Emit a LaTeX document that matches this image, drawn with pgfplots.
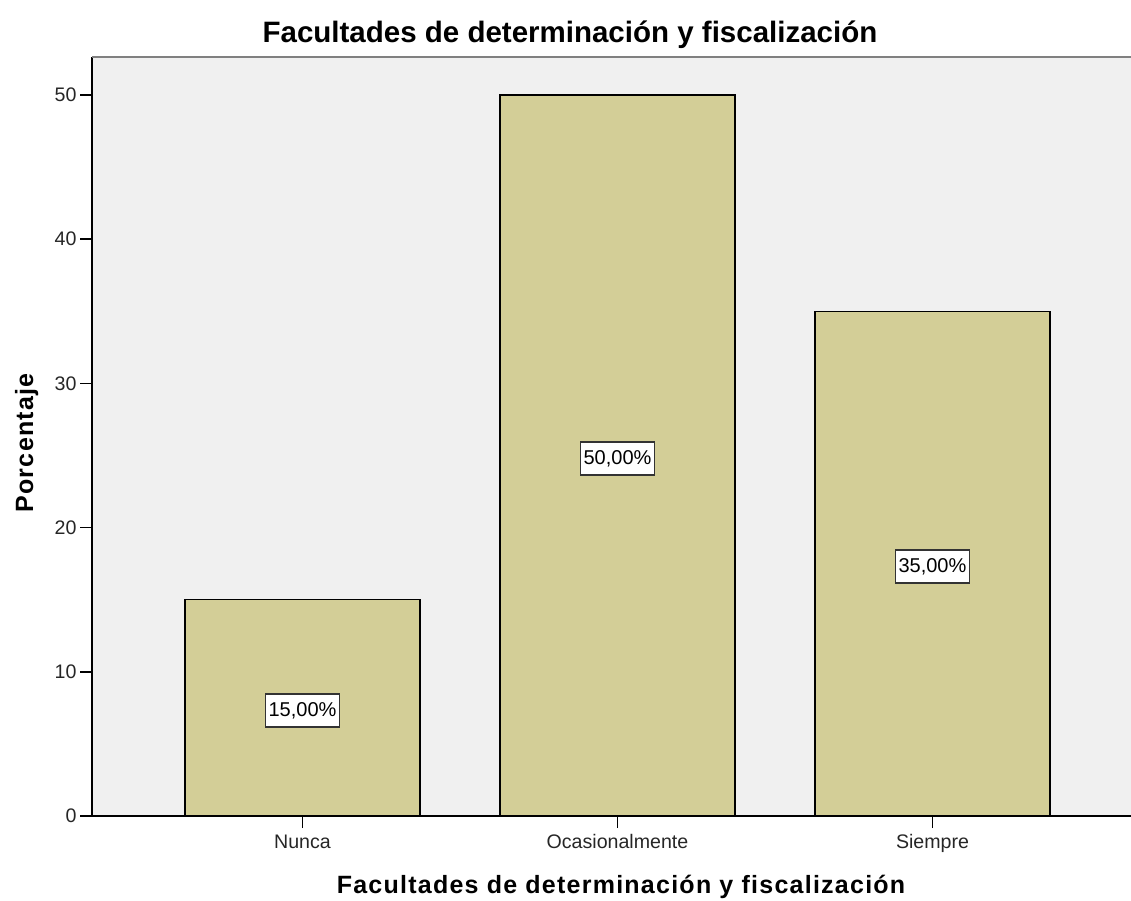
\documentclass[border=0pt]{standalone}
\usepackage{fontspec}
\setmainfont{Liberation Sans}
\newfontfamily\labfont[LetterSpace=5]{Liberation Sans}
\usepackage{pgfplots}
\pgfplotsset{compat=1.18}
\definecolor{barfill}{HTML}{D3CE97}
\definecolor{bgfill}{HTML}{F0F0F0}
\begin{document}
\begin{tikzpicture}[x=1pt,y=1pt]
\useasboundingbox (0,0) rectangle (1131,900);
\begin{axis}[
 at={(92pt,84pt)}, anchor=south west, scale only axis,
 width=1039pt, height=759pt,
 xmin=-0.6683, xmax=2.6302, ymin=0, ymax=52.64,
 axis x line*=bottom, axis y line*=left,
 axis line style={black, line width=1.5pt, -},
 axis background/.style={fill=bgfill},
 xtick={0,1,2}, xticklabels={Nunca,Ocasionalmente,Siempre},
 ytick={0,10,...,50},
 tick align=outside, major tick length=12pt,
 tick style={black, line width=1.5pt},
 ticklabel style={font=\fontsize{19.6}{22}\selectfont, text=black!85},
 xticklabel style={yshift=-3pt},
 /pgf/number format/assume math mode=true,
 clip=false,
]
\addplot[ybar, bar width=235pt, fill=barfill, draw=black, line width=1.3pt] coordinates {(0,15) (1,50) (2,35)};
\addplot[draw=none, mark=none, nodes near coords, point meta=explicit symbolic,
  every node near coord/.style={anchor=center, fill=white, draw=black!80, line width=1.8pt,
  font=\fontsize{20}{22}\selectfont, inner xsep=3pt, minimum height=33pt, text=black}]
  coordinates {(0,7.3) [15,00\%] (1,24.8) [50,00\%] (2,17.3) [35,00\%]};
\end{axis}
\draw[gray, line width=2.5pt] (92,843) -- (1131,843);
\node[anchor=base, font=\fontsize{29.5}{32}\selectfont\bfseries, inner sep=0pt] at (570,857) {Facultades de determinación y fiscalización};
\node[anchor=base, font=\fontsize{25}{28}\selectfont\labfont\bfseries, inner sep=0pt] at (621,7) {Facultades de determinación y fiscalización};
\node[anchor=base, rotate=90, font=\fontsize{25}{28}\selectfont\labfont\bfseries, inner sep=0pt] at (33,457) {Porcentaje};
\end{tikzpicture}
\end{document}
